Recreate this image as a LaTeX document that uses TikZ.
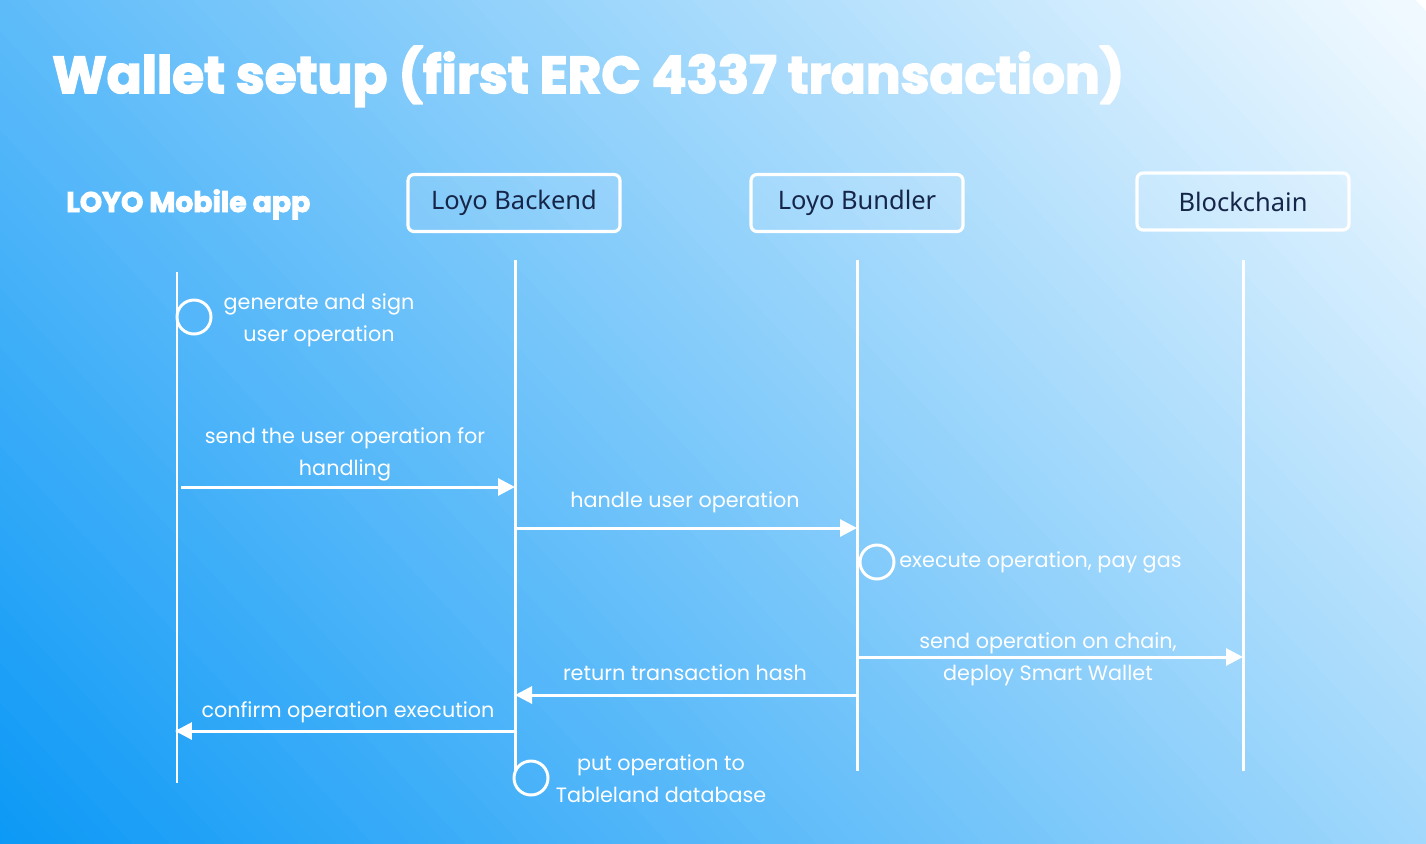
\documentclass[tikz,border=0pt]{standalone}
\usepackage{fontspec}
\setmainfont{Poppins}
\newfontfamily\titlefont{Poppins}[BoldFeatures={FakeBold=3}]
\newfontfamily\boxfont{Noto Sans}
\usetikzlibrary{arrows.meta}
\newlength\px
\setlength\px{0.02cm}
\definecolor{cBL}{RGB}{10,152,246}
\definecolor{cTR}{RGB}{240,249,255}
\definecolor{navy}{RGB}{22,38,72}
\tikzset{
  actor/.style={draw=white, line width=1.8pt, rounded corners=0.12cm, fill=white, fill opacity=0.1, text opacity=1,
    minimum width=4.24cm, minimum height=1.14cm, text=navy, font=\boxfont\fontsize{14.5}{17}\selectfont},
  life/.style={white, line width=1.7pt},
  msg/.style={white, line width=1.7pt, -{Triangle[length=0.34cm, width=0.34cm]}},
  act/.style={circle, draw=white, line width=1.7pt, minimum size=0.68cm, inner sep=0pt},
  lbl/.style={text=white, align=center, inner sep=0pt, font=\fontsize{11.8}{18.1}\selectfont},
}
\begin{document}
\begin{tikzpicture}[x=0.02cm, y=-0.02cm]
\useasboundingbox (0,0) rectangle (1426,843);
% background gradient
\begin{scope}
\clip (0,0) rectangle (1426,843);
\begin{scope}[shift={(0,843)}, yscale=-1, rotate=-43.13]
\foreach \i in {0,...,119} {
  \pgfmathsetmacro{\pa}{\i*13.5 - 12}
  \pgfmathsetmacro{\pb}{\pa + 15}
  \pgfmathsetmacro{\pc}{min(100,(\i+0.5)/120*101)}
  \colorlet{bandc}{cTR!\pc!cBL}
  \fill[bandc] (\pa,-2000) -- (\pb,-2000) -- (\pb,2000) -- (\pa,2000) -- cycle;
}
\end{scope}
\end{scope}
% title
\node[anchor=base west, inner sep=0pt, text=white] (title) at (52,93)
  {\resizebox{1072\px}{!}{\titlefont\bfseries\fontsize{30.8}{36}\selectfont Wallet setup (first ERC 4337 transaction)}};
\node[anchor=base west, inner sep=0pt, text=white] (mobile) at (66,212)
  {\resizebox{244\px}{!}{\titlefont\bfseries\fontsize{19.5}{22}\selectfont LOYO Mobile app}};
% actors
\node[actor] (backend) at (514,203) {Loyo Backend};
\node[actor] (bundler) at (857,203) {Loyo Bundler};
\node[actor] (chain) at (1243,201.5) {Blockchain};
% lifelines
\coordinate (m0) at (177,272); \coordinate (m1) at (177,783);
\coordinate (b0) at (515,260); \coordinate (b1) at (515,770);
\coordinate (u0) at (857,260); \coordinate (u1) at (857,771);
\coordinate (k0) at (1243,260); \coordinate (k1) at (1243,771);
\draw[life] (m0) -- (m1);
\draw[life] (b0) -- (b1);
\draw[life] (u0) -- (u1);
\draw[life] (k0) -- (k1);
% activations
\node[act] (c1) at (194,317) {};
\node[act] (c2) at (877,562) {};
\node[act] (c3) at (531,778) {};
\node[lbl] (t1) at (319,320) {generate and sign\\user operation};
\node[lbl, anchor=west] (t2) at (899,562) {execute operation, pay gas};
\node[lbl] (t3) at (661,779) {put operation to\\Tableland database};
% messages
\coordinate (a1s) at (181,487); \coordinate (a1e) at (515,487);
\coordinate (a2s) at (515,528); \coordinate (a2e) at (857,528);
\coordinate (a3s) at (857,657); \coordinate (a3e) at (1243,657);
\coordinate (a4s) at (857,695); \coordinate (a4e) at (515,695);
\coordinate (a5s) at (515,731); \coordinate (a5e) at (175,731);
\draw[msg] (a1s) -- (a1e);
\draw[msg] (a2s) -- (a2e);
\draw[msg] (a3s) -- (a3e);
\draw[msg] (a4s) -- (a4e);
\draw[msg] (a5s) -- (a5e);
\node[lbl] (l1) at (345,454) {send the user operation for\\handling};
\node[lbl] (l2) at (685,502) {handle user operation};
\node[lbl] (l3) at (1048,659) {send operation on chain,\\deploy Smart Wallet};
\node[lbl] (l4) at (685,673) {return transaction hash};
\node[lbl] (l5) at (348,712) {confirm operation execution};
\end{tikzpicture}
\end{document}
